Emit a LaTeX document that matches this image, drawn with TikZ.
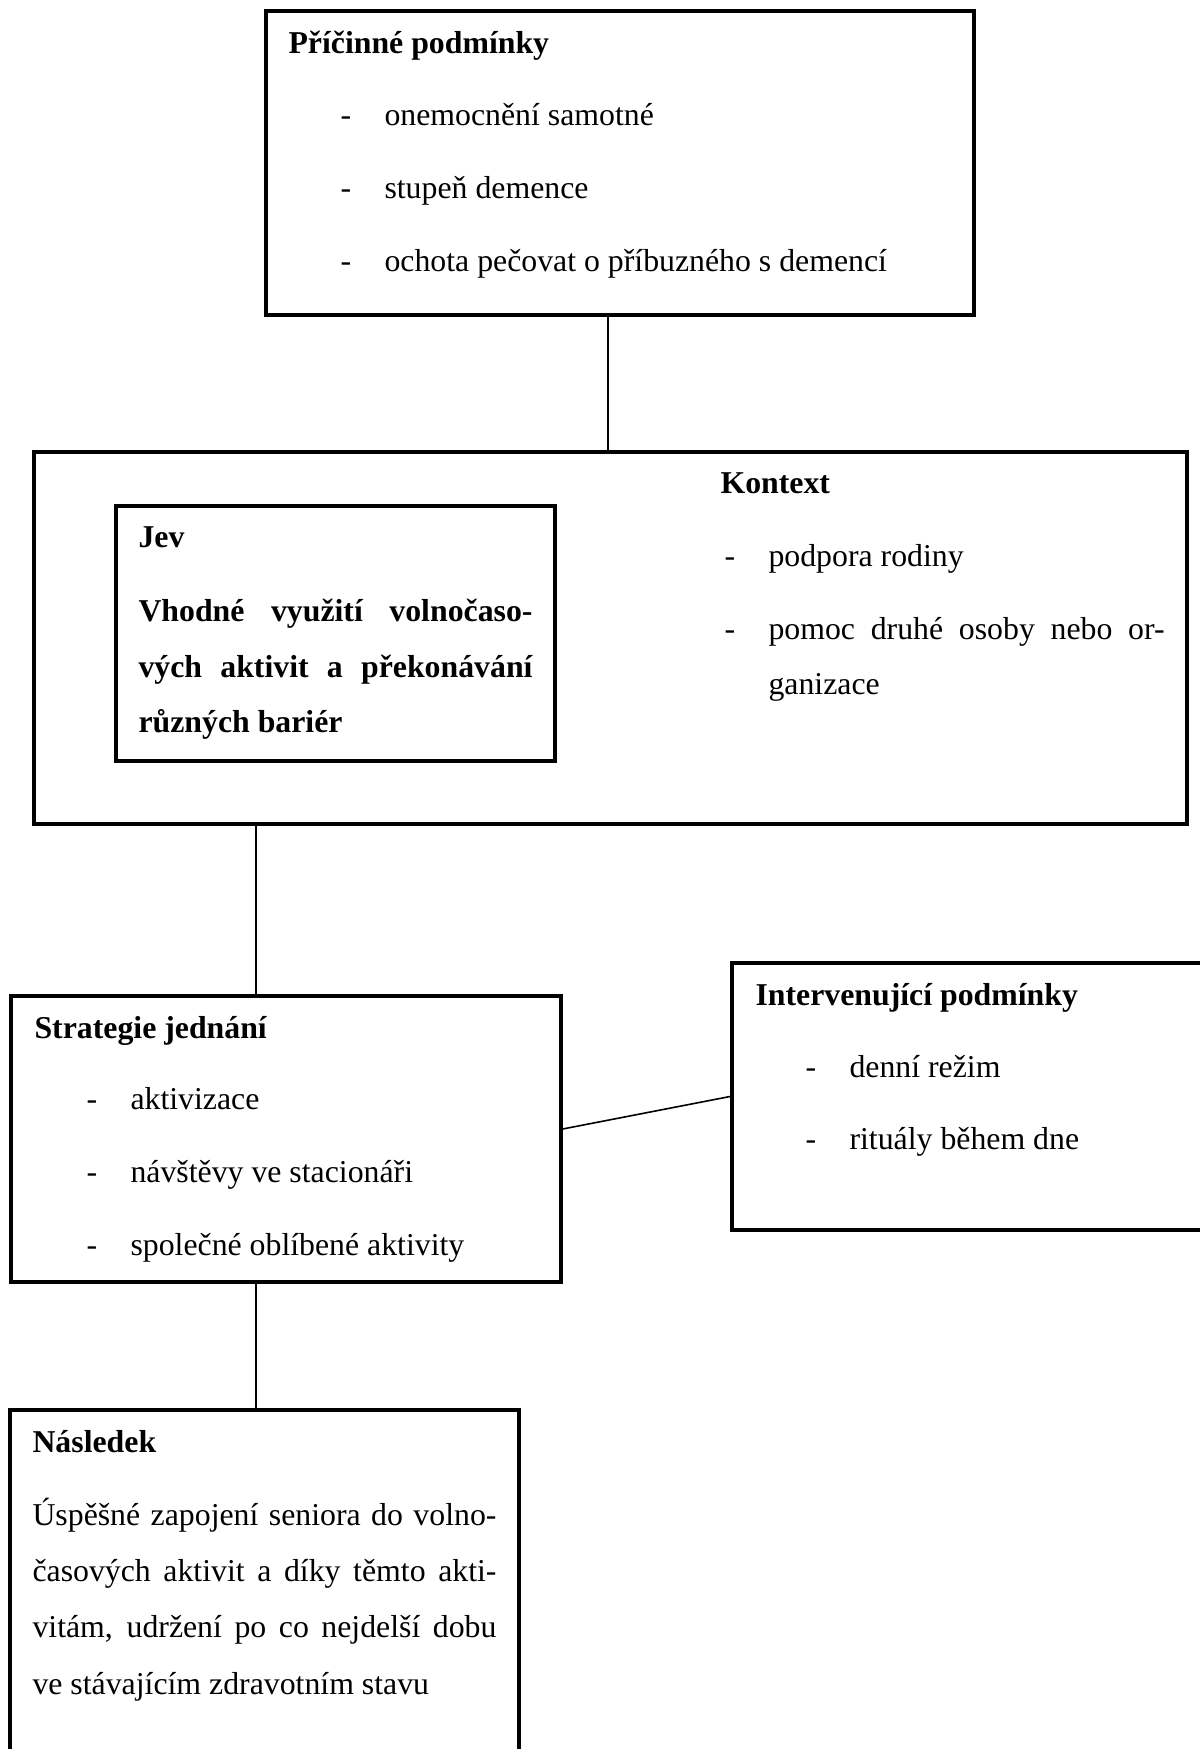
\documentclass[tikz,border=0pt]{standalone}
\usepackage{fontspec}
\setmainfont{Liberation Serif}
\usetikzlibrary{fit}
\tikzstyle{box}=[draw,line width=1.5pt,inner sep=0pt]
\tikzstyle{link}=[draw,line width=0.6pt,-]
\tikzstyle{txt}=[anchor=base west,inner sep=0pt,font=\fontsize{12}{14}\selectfont]
\tikzstyle{head}=[txt,font=\fontsize{12}{14}\selectfont\bfseries]

\begin{document}
\begin{tikzpicture}[x=0.3774pt,y=-0.3774pt]
    \useasboundingbox (0,0) rectangle (1200,1749);
    \clip (0,0) rectangle (1200,1749);

    \node[box, fit={(266,11) (974,315)}] (pricinne) {};
    \node[box, fit={(34,452) (1187,824)}] (kontext) {};
    \node[box, fit={(116,506) (555,761)}] (jev) {};
    \node[box, fit={(11,996) (561,1282)}] (strategie) {};
    \node[box, fit={(732,963) (1230,1230)}] (interv) {};
    \node[box, fit={(10,1410) (519,1780)}] (nasledek) {};

    % Pricinne podminky
    \node[head] (h1) at (288,53) {Příčinné podmínky};
    \foreach \y/\txt [count=\i] in {125/onemocnění samotné, 198/stupeň demence,
                                    271/ochota pečovat o příbuzného s demencí}{
        \node[txt] (pd\i) at (340,\y) {-};
        \node[txt] (pt\i) at (384,\y) {\txt};
    }

    % Kontext a Jev
    \node[head] (h2) at (720,493) {Kontext};
    \node[txt] (kd1) at (724,566) {-};
    \node[txt] (kt1) at (768,566) {podpora rodiny};
    \node[txt] (kd2) at (724,639) {-};
    \node[txt] (kt2) at (768,639) {\makebox[149.5pt][s]{pomoc druhé osoby nebo or-}};
    \node[txt] (kt3) at (768,694) {ganizace};

    \node[head] (h3) at (138,547) {Jev};
    \node[head] (jt1) at (138,621) {\makebox[148.7pt][s]{Vhodné využití volnočaso-}};
    \node[head] (jt2) at (138,677) {\makebox[148.7pt][s]{vých aktivit a překonávání}};
    \node[head] (jt3) at (138,732) {různých bariér};

    % Strategie jednani
    \node[head] (h4) at (34,1038) {Strategie jednání};
    \foreach \y/\txt [count=\i] in {1109/aktivizace, 1182/návštěvy ve stacionáři,
                                    1255/společné oblíbené aktivity}{
        \node[txt] (sd\i) at (86,\y) {-};
        \node[txt] (st\i) at (130,\y) {\txt};
    }

    % Intervenujici podminky
    \node[head] (h5) at (755,1005) {Intervenující podmínky};
    \foreach \y/\txt [count=\i] in {1077/denní režim, 1149/rituály během dne}{
        \node[txt] (id\i) at (805,\y) {-};
        \node[txt] (it\i) at (849,\y) {\txt};
    }

    % Nasledek
    \node[head] (h6) at (32,1452) {Následek};
    \node[txt] (nt1) at (32,1525) {\makebox[175.1pt][s]{Úspěšné zapojení seniora do volno-}};
    \node[txt] (nt2) at (32,1581) {\makebox[175.1pt][s]{časových aktivit a díky těmto akti-}};
    \node[txt] (nt3) at (32,1637) {\makebox[175.1pt][s]{vitám, udržení po co nejdelší dobu}};
    \node[txt] (nt4) at (32,1694) {ve stávajícím zdravotním stavu};

    \coordinate (ca) at (608,0);
    \coordinate (cb) at (256,0);
    \path[link] (pricinne.south -| ca) -- (kontext.north -| ca);
    \path[link] (kontext.south -| cb) -- (strategie.north -| cb);
    \path[link] (strategie.south -| cb) -- (nasledek.north -| cb);
    \path[link] ([yshift=3.8pt]strategie.east) -- (interv.west);
\end{tikzpicture}
\end{document}
